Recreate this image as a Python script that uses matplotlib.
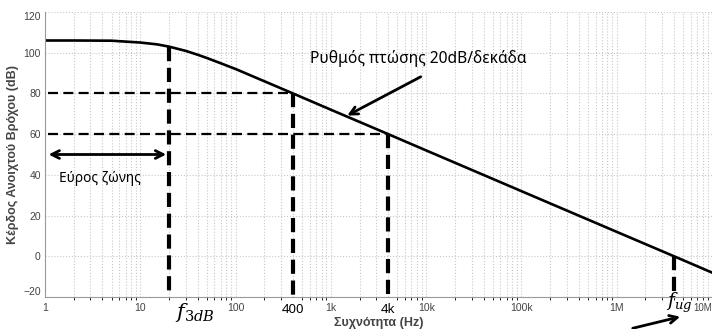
import matplotlib
matplotlib.use("Agg")
import matplotlib.pyplot as plt

# open-loop gain
freq = [1, 2, 5, 10, 15, 20, 30, 40, 50, 70, 100, 200, 400, 1000, 4000,
        10000, 100000, 1000000, 4000000, 10000000]
gain = [106, 106, 105.9, 105, 104.1, 103, 100.9, 99, 97.4, 94.8, 92, 86, 80,
        72, 60, 52, 32, 12, 0, -8]

xticks = [1, 10, 100, 1000, 10000, 100000, 1000000, 10000000]
xlabels = ["1", "10", "100", "1k", "10k", "100k", "1M", "10M"]
yticks = [-20, 0, 20, 40, 60, 80, 100, 120]

f3db, g3db = 20, 103
f80, f60 = 400, 4000
fug = 4000000

plt.rcParams['font.family'] = ['Liberation Sans', 'DejaVu Sans']
plt.rcParams['mathtext.fontset'] = 'dejavuserif'

fig = plt.figure(figsize=(7.12, 3.29), dpi=100)
ax = fig.add_axes([45 / 712, 32 / 329, 667 / 712, 285 / 329])

ax.set_xscale("log")
ax.set_xlim(1, 1e7)
ax.set_ylim(-20, 120)

ax.grid(True, which="both", axis="x", linestyle=":", color="#c8c8c8", linewidth=0.8)
ax.grid(True, which="major", axis="y", linestyle=":", color="#c8c8c8", linewidth=0.8)
ax.set_axisbelow(True)

ax.plot(freq, gain, color="black", linewidth=1.9)

# guide lines
vd = dict(color="black", linewidth=3, dashes=(3.4, 1.6))
hd = dict(color="black", linewidth=1.6, dashes=(4.5, 2.4))
ax.plot([f3db, f3db], [g3db, -20], **vd)
ax.plot([f80, f80], [80, -20], **vd)
ax.plot([f60, f60], [60, -20], **vd)
ax.plot([fug, fug], [0, -20], **vd)
ax.plot([1.07, f80], [80, 80], **hd)
ax.plot([1.07, f60], [60, 60], **hd)

# ticks
ax.set_xticks(xticks + [f80, f60])
ax.set_xticklabels(xlabels + ["400", "4k"])
ax.set_yticks(yticks)
ax.tick_params(length=0, labelsize=7.5, labelcolor="#444444", pad=4)
ax.tick_params(axis="y", pad=3)
xlabs = ax.get_xticklabels()
for lab in xlabs[-2:]:
    lab.set_fontsize(9.5)
    lab.set_color("black")
    lab.set_fontfamily(["Noto Sans"])
xlabs[len(xticks) - 1].set_ha("right")
xlabs[len(xticks) - 1].set_fontsize(7)
ylabs = ax.get_yticklabels()
ylabs[0].set_va("bottom")
ylabs[-1].set_va("top")

for s in ["top", "right"]:
    ax.spines[s].set_visible(False)
for s in ["left", "bottom"]:
    ax.spines[s].set_color("#9a9a9a")

ax.set_xlabel("Συχνότητα (Hz)", fontsize=9, fontweight="bold", color="#444444", labelpad=1)
ax.set_ylabel("Κέρδος Ανοιχτού Βρόχου (dB)", fontsize=9, fontweight="bold", color="#444444", labelpad=3)

# annotations
ax.annotate("", xy=(1.02, 50), xytext=(f3db, 50),
            arrowprops=dict(arrowstyle="<->", lw=2, color="black", mutation_scale=14))
ax.text(1.40, 38.4, "Εύρος ζώνης", fontsize=9.8, va="center", family=["Noto Sans"])

ax.text(605, 97.4, "Ρυθμός πτώσης 20dB/δεκάδα", fontsize=11.2, va="center", family=["Noto Sans"])
ax.annotate("", xy=(1400, 68.5), xytext=(9300, 88.8),
            arrowprops=dict(arrowstyle="->", lw=2, color="black", mutation_scale=14))

ax.annotate("$f_{3dB}$", xy=(37.5, -0.056), xycoords=("data", "axes fraction"),
            ha="center", va="center", fontsize=15, annotation_clip=False)
ax.annotate("$f_{ug}$", xy=(4.5e6, -0.021), xycoords=("data", "axes fraction"),
            ha="center", va="center", fontsize=13.5, annotation_clip=False)
ax.annotate("", xy=(4.95e6, -0.067), xycoords=("data", "axes fraction"),
            xytext=(1.38e6, -0.112), textcoords=("data", "axes fraction"),
            arrowprops=dict(arrowstyle="->", lw=2, color="black", mutation_scale=14),
            annotation_clip=False)

fig.savefig("out.png", dpi=100)
